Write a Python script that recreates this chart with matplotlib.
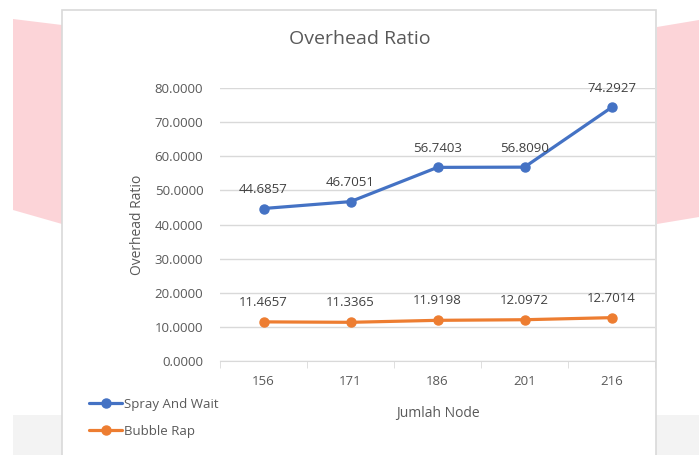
import matplotlib.pyplot as plt
from matplotlib.patches import Polygon, Rectangle

# data
nodes = ['156', '171', '186', '201', '216']
spray_wait = [44.6857, 46.7051, 56.7403, 56.8090, 74.2927]
bubble_rap = [11.4657, 11.3365, 11.9198, 12.0972, 12.7014]
y_ticks = [0, 10, 20, 30, 40, 50, 60, 70, 80]

plt.rcParams['font.family'] = ['Open Sans', 'DejaVu Sans']

W, H = 699, 455
fig = plt.figure(figsize=(W / 100, H / 100), dpi=100)
fig.patch.set_facecolor('white')

def fx(px):
    return px / W

def fy(py):
    return 1 - py / H

# background screenshot bits (pink bands, grey strip, chart frame)
pink = '#fcd4d8'
fig.patches.append(Polygon([(fx(13), fy(19)), (fx(62), fy(25)), (fx(62), fy(224)), (fx(13), fy(210))],
                           closed=True, transform=fig.transFigure, facecolor=pink, edgecolor='none', zorder=0))
fig.patches.append(Polygon([(fx(657), fy(27)), (fx(699), fy(20)), (fx(699), fy(217)), (fx(657), fy(224))],
                           closed=True, transform=fig.transFigure, facecolor=pink, edgecolor='none', zorder=0))
fig.patches.append(Rectangle((fx(13), 0), fx(686), fy(415), transform=fig.transFigure,
                             facecolor='#f3f3f3', edgecolor='none', zorder=0))
fig.patches.append(Rectangle((fx(62), -0.01), fx(594), fy(10) + 0.01, transform=fig.transFigure,
                             facecolor='white', edgecolor='#d9d9d9', linewidth=1.2, zorder=1))

ax = fig.add_axes([fx(220), fy(361), fx(655 - 220), fy(88) - fy(361)])
ax.set_facecolor('none')
ax.set_zorder(2)

x = list(range(len(nodes)))
ax.plot(x, spray_wait, color='#4472c4', linewidth=2.3, marker='o', markersize=6.5,
        label='Spray And Wait', solid_capstyle='round')
ax.plot(x, bubble_rap, color='#ed7d31', linewidth=2.3, marker='o', markersize=6.5,
        label='Bubble Rap', solid_capstyle='round')

for xi, v in zip(x, spray_wait):
    ax.annotate(f'{v:.4f}', (xi, v), xytext=(0, 13.5), textcoords='offset points',
                ha='center', va='center', fontsize=9.5, color='#404040')
for xi, v in zip(x, bubble_rap):
    ax.annotate(f'{v:.4f}', (xi, v), xytext=(0, 14), textcoords='offset points',
                ha='center', va='center', fontsize=9.5, color='#404040')

ax.set_xlim(-0.5, len(nodes) - 0.5)
ax.set_ylim(0, 80)
ax.set_yticks(y_ticks)
ax.set_yticklabels([f'{t:.4f}' for t in y_ticks])
ax.set_xticks(x)
ax.set_xticklabels(nodes)
ax.set_xticks([i - 0.5 for i in range(len(nodes) + 1)], minor=True)
ax.grid(axis='y', color='#d9d9d9', linewidth=1)
ax.set_axisbelow(True)
for s in ['top', 'right', 'left']:
    ax.spines[s].set_visible(False)
ax.spines['bottom'].set_color('#d9d9d9')
ax.tick_params(axis='y', length=0, pad=12, labelsize=9.5, labelcolor='#595959')
ax.tick_params(axis='x', which='major', length=0, pad=10, labelsize=9.5, labelcolor='#595959')
ax.tick_params(axis='x', which='minor', length=5, color='#d9d9d9')

ax.set_ylabel('Overhead Ratio', fontsize=10, color='#595959', labelpad=7)
ax.set_xlabel('Jumlah Node', fontsize=10, color='#595959', labelpad=13)
fig.text(fx(360), fy(39), 'Overhead Ratio', ha='center', va='center', fontsize=14, color='#595959')

fig.legend(loc='center left', bbox_to_anchor=(fx(84), fy(418)), frameon=False, fontsize=9.5,
           labelcolor='#595959', handlelength=2.5, handletextpad=0.1, labelspacing=1.05,
           borderaxespad=0)

fig.savefig('out.png', dpi=100)
